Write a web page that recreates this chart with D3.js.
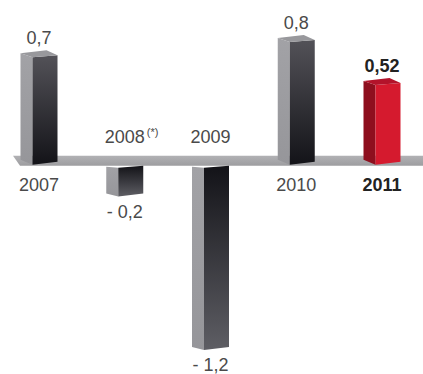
<!DOCTYPE html>
<meta charset="utf-8">
<script src="https://cdn.jsdelivr.net/npm/d3@7"></script>
<html>
<head>
<style>
body { margin: 0; background: #fff; }
text { font-family: "Liberation Sans", Helvetica, Arial, sans-serif; }
</style>
</head>
<body>
<div id="chart"></div>
<script>

// data
var years = ["2007", "2008", "2009", "2010", "2011"];
var values = [0.7, -0.2, -1.2, 0.8, 0.52];
var notes = ["", "(*)", "", "", ""];
var highlight = "2011";

var width = 423, height = 374;

var svg = d3.select("#chart")
  .append("svg")
    .attr("width", width)
    .attr("height", height);

var x = d3.scalePoint()
  .domain(years)
  .range([39, 382]);

var y = d3.scaleLinear()
  .domain([-1.2, 0.8])
  .range([347, 40]);

var z = y(0);
var side = 12, front = 25, half = (side + front) / 2;

// gradients
var defs = svg.append("defs");
function grad(id, c1, c2) {
  var g = defs.append("linearGradient").attr("id", id)
    .attr("x1", 0).attr("y1", 0).attr("x2", 0).attr("y2", 1);
  g.append("stop").attr("offset", "0%").attr("stop-color", c1);
  g.append("stop").attr("offset", "100%").attr("stop-color", c2);
}
grad("posFront", "#535258", "#131318");
grad("negFront", "#131318", "#5e5e64");
grad("sideGray", "#a2a2a6", "#96969a");
grad("plane", "#b1b1b4", "#9d9da0");

// the base plane
svg.append("polygon")
  .attr("points", [[13, z - 7], [width, z - 7], [width, z + 3], [20, z + 3]].join(" "))
  .attr("fill", "url(#plane)");

var fmt = function(v) {
  return (v < 0 ? "- " : "") + String(Math.abs(v)).replace(".", ",");
};

years.forEach(function(yr, i) {
  var v = values[i];
  var cx = x(yr);
  var x0 = cx - half, x1 = x0 + side, x2 = cx + half;
  var red = yr == highlight;
  var g = svg.append("g");
  var t = y(v);

  if (v >= 0) {
    g.append("polygon")
      .attr("points", [[x0, t - 2], [x1, t + 2], [x1, z + 2], [x0, z - 3]].join(" "))
      .attr("fill", red ? "#8e0f1e" : "url(#sideGray)");
    g.append("polygon")
      .attr("points", [[x1, t + 2], [x2, t], [x2, z - 1], [x1, z + 2]].join(" "))
      .attr("fill", red ? "#d51a2e" : "url(#posFront)");
    g.append("polygon")
      .attr("points", [[x0, t - 2], [x0 + 26, t - 5], [x2, t], [x1, t + 2]].join(" "))
      .attr("fill", red ? "#b3132a" : "#98989c");
  } else {
    var s = z + 4;
    g.append("polygon")
      .attr("points", [[x0, s], [x1, s + 1], [x1, t + 3], [x0, t]].join(" "))
      .attr("fill", "url(#sideGray)");
    g.append("polygon")
      .attr("points", [[x1, s + 1], [x2, s - 1], [x2, t], [x1, t + 3]].join(" "))
      .attr("fill", "url(#negFront)");
  }

  // value label
  svg.append("text")
    .attr("x", cx)
    .attr("y", v >= 0 ? t - 11 : t + 24)
    .attr("text-anchor", "middle")
    .style("font-size", "18px")
    .style("font-weight", red ? "bold" : "normal")
    .style("fill", red ? "#222" : "#4a4a4a")
    .text(fmt(v));

  // year label
  var yl = svg.append("text")
    .attr("x", cx)
    .attr("y", v >= 0 ? z + 28 : z - 20)
    .attr("text-anchor", "middle")
    .style("font-size", "18px")
    .style("font-weight", red ? "bold" : "normal")
    .style("fill", red ? "#222" : "#4a4a4a")
    .text(yr);

  if (notes[i]) {
    var w = yl.node().getComputedTextLength();
    svg.append("text")
      .attr("x", cx + w / 2 + 2)
      .attr("y", z - 27)
      .style("font-size", "11px")
      .style("fill", "#4a4a4a")
      .text(notes[i]);
  }
});

</script>
</body>
</html>
